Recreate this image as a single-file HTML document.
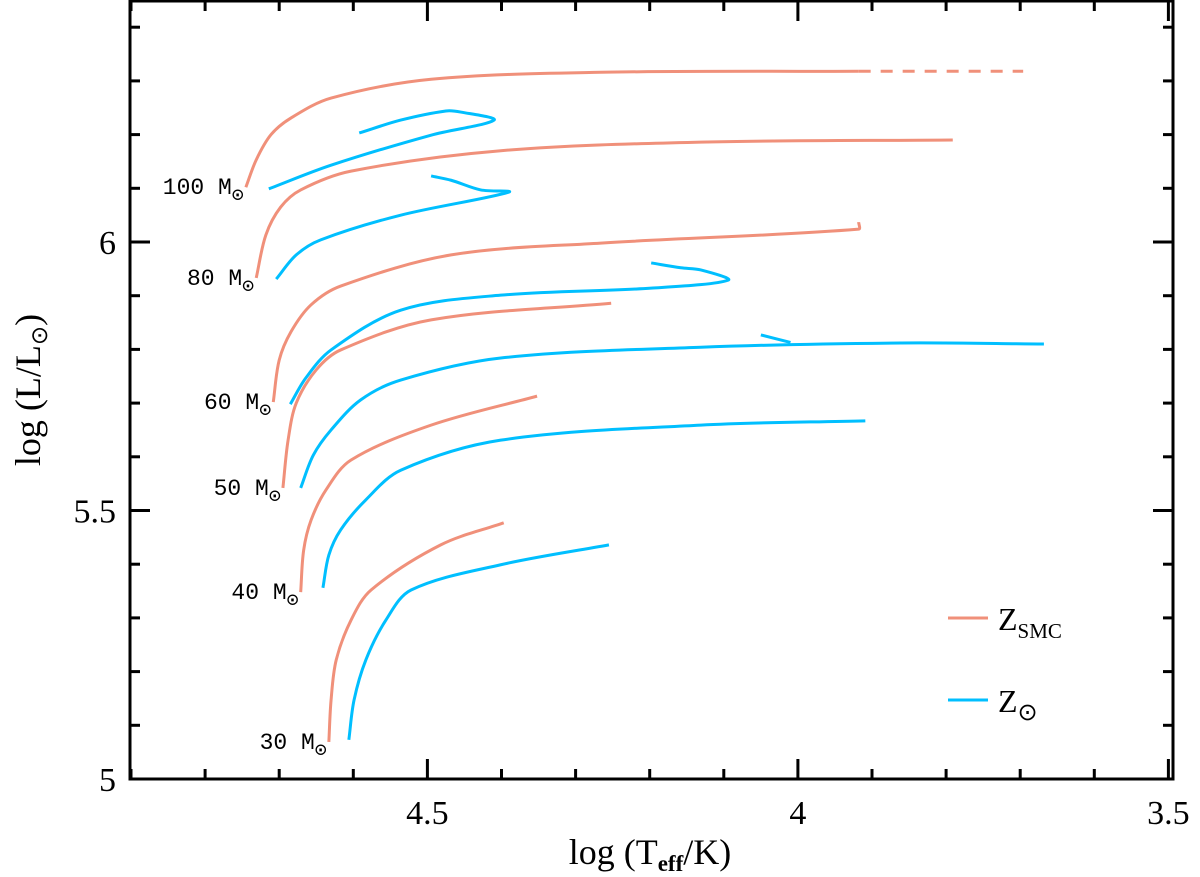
<!DOCTYPE html>
<html><head><meta charset="utf-8"><style>
body{margin:0;background:#fff;}
svg{display:block;font-family:"Liberation Serif",serif;}
</style></head><body>
<svg id="chart" width="1200" height="877" viewBox="0 0 1200 877" xmlns="http://www.w3.org/2000/svg">
<g id="tracks"></g>
<g id="axes"></g>
<g>
<line x1="948" y1="618" x2="988" y2="618" stroke="#f0907a" stroke-width="3"/>
<text x="998" y="630" font-size="32">Z<tspan font-size="21" dy="8">SMC</tspan></text>
<line x1="948" y1="700" x2="988" y2="700" stroke="#00bfff" stroke-width="3"/>
<text x="998" y="712" font-size="32">Z<tspan font-size="24" dy="8">⊙</tspan></text>
</g>
<text x="650" y="864" font-size="36" text-anchor="middle">log (T<tspan font-size="23" dy="7" font-weight="bold">eff</tspan><tspan dy="-7">/K)</tspan></text>
<text transform="translate(40,390) rotate(-90)" font-size="36" text-anchor="middle">log (L/L<tspan font-size="23" dy="7">⊙</tspan><tspan dy="-7">)</tspan></text>
</svg>
<script>
const xTicks=[4.5,4.0,3.5];
const xTickText=["4.5","4","3.5"];
const yTicks=[5,5.5,6];
const yTickText=["5","5.5","6"];
const massLabels=["100","80","60","50","40","30"];
const labelPos=[[4.745,6.102],[4.731,5.933],[4.708,5.702],[4.695,5.542],[4.671,5.348],[4.633,5.069]];
const smc100=[[4.745,6.102],[4.731,6.153],[4.711,6.200],[4.684,6.231],[4.630,6.268],[4.495,6.303],[4.266,6.316],[3.918,6.318]];
const smc100dash=[[3.918,6.318],[3.696,6.318]];
const sun100=[[4.714,6.099],[4.630,6.143],[4.495,6.199],[4.410,6.227],[4.455,6.242],[4.475,6.244],[4.536,6.227],[4.592,6.203]];
const smc80=[[4.731,5.933],[4.718,6.013],[4.698,6.065],[4.671,6.097],[4.603,6.132],[4.401,6.170],[4.131,6.186],[3.791,6.190]];
const sun80=[[4.704,5.931],[4.677,5.976],[4.644,6.004],[4.536,6.050],[4.390,6.093],[4.428,6.097],[4.468,6.115],[4.495,6.123]];
const smc60=[[4.708,5.702],[4.700,5.780],[4.684,5.833],[4.657,5.883],[4.617,5.918],[4.468,5.976],[4.266,5.998],[3.918,6.024],[3.918,6.037]];
const sun60=[[4.685,5.698],[4.664,5.747],[4.630,5.799],[4.536,5.873],[4.401,5.901],[4.198,5.914],[4.094,5.929],[4.131,5.948],[4.158,5.952],[4.198,5.961]];
const smc50=[[4.695,5.542],[4.688,5.631],[4.677,5.700],[4.650,5.762],[4.617,5.799],[4.495,5.855],[4.252,5.886]];
const sun50=[[4.671,5.542],[4.654,5.603],[4.630,5.650],[4.590,5.706],[4.536,5.743],[4.401,5.784],[4.131,5.804],[3.861,5.812],[3.668,5.810]];
const sun50loop=[[4.010,5.813],[4.050,5.827]];
const smc40=[[4.671,5.348],[4.667,5.426],[4.657,5.482],[4.637,5.538],[4.603,5.594],[4.495,5.659],[4.352,5.713]];
const sun40=[[4.641,5.356],[4.633,5.417],[4.617,5.464],[4.583,5.520],[4.536,5.575],[4.401,5.631],[4.131,5.659],[3.909,5.667]];
const smc30=[[4.633,5.069],[4.630,5.147],[4.623,5.222],[4.603,5.296],[4.576,5.352],[4.482,5.436],[4.397,5.477]];
const sun30=[[4.606,5.073],[4.599,5.147],[4.583,5.222],[4.556,5.296],[4.522,5.352],[4.401,5.399],[4.255,5.436]];

const L=130,R=1173,T=1,B=779;
const X=v=>131+(4.9-v)*741;
const Y=v=>779-(v-5)*537;
const NS="http://www.w3.org/2000/svg";
function mk(tag,attrs,parent){const e=document.createElementNS(NS,tag);for(const k in attrs)e.setAttribute(k,attrs[k]);parent.appendChild(e);return e;}
const dist=(a,b)=>Math.hypot(a[0]-b[0],a[1]-b[1])||1e-6;
function pathD(pts){
  const p=pts.map(q=>[X(q[0]),Y(q[1])]);
  let d="M"+p[0][0]+","+p[0][1];
  for(let i=0;i<p.length-1;i++){
    const p0=p[Math.max(i-1,0)],p1=p[i],p2=p[i+1],p3=p[Math.min(i+2,p.length-1)];
    const d01=dist(p0,p1),d12=dist(p1,p2),d23=dist(p2,p3);
    const k1=i===0?d12/(3*d12):d12/(3*(d01+d12));
    const k2=(i+2>p.length-1)?d12/(3*d12):d12/(3*(d12+d23));
    const c1=[p1[0]+(p2[0]-p0[0])*k1,p1[1]+(p2[1]-p0[1])*k1];
    const c2=[p2[0]-(p3[0]-p1[0])*k2,p2[1]-(p3[1]-p1[1])*k2];
    d+=" C"+c1[0]+","+c1[1]+" "+c2[0]+","+c2[1]+" "+p2[0]+","+p2[1];
  }
  return d;
}
const tg=document.getElementById('tracks');
const series=[["smc-100",smc100,"#f0907a",""],["smc-100-dashed",smc100dash,"#f0907a","12 10"],["sun-100",sun100,"#00bfff",""],
["smc-80",smc80,"#f0907a",""],["sun-80",sun80,"#00bfff",""],["smc-60",smc60,"#f0907a",""],["sun-60",sun60,"#00bfff",""],
["smc-50",smc50,"#f0907a",""],["sun-50",sun50,"#00bfff",""],["sun-50-loop",sun50loop,"#00bfff",""],
["smc-40",smc40,"#f0907a",""],["sun-40",sun40,"#00bfff",""],["smc-30",smc30,"#f0907a",""],["sun-30",sun30,"#00bfff",""]];
series.forEach(s=>{
  const e=mk('path',{d:pathD(s[1]),fill:"none",stroke:s[2],"stroke-width":3,"stroke-dasharray":s[3]},tg);
  
  
});
massLabels.forEach((m,i)=>{
  const t=mk('text',{x:X(labelPos[i][0])-2,y:Y(labelPos[i][1])+7,"font-size":23,"text-anchor":"end","font-family":"Liberation Mono, monospace"},tg);
  t.textContent=m+" M";
  
  
  const s=mk('tspan',{"font-size":20,dy:7},t);s.textContent="⊙";
});
const ag=document.getElementById('axes');
const fr=mk('rect',{x:L,y:T,width:R-L,height:B-T,fill:"none",stroke:"#000","stroke-width":3},ag);


for(let k=0;k<=14;k++){
  const v=4.9-k*0.1;const x=X(v);const maj=Math.abs(v*2-Math.round(v*2))<1e-6;const len=maj?20:10;
  mk('line',{x1:x,y1:B,x2:x,y2:B-len,stroke:"#000","stroke-width":3},ag);
  mk('line',{x1:x,y1:T,x2:x,y2:T+len,stroke:"#000","stroke-width":3},ag);
}
for(let k=0;k<=14;k++){
  const v=5+k*0.1;if(v>6.46)break;const y=Y(v);const maj=Math.abs(v*2-Math.round(v*2))<1e-6;const len=maj?20:10;
  mk('line',{x1:L,y1:y,x2:L+len,y2:y,stroke:"#000","stroke-width":3},ag);
  mk('line',{x1:R,y1:y,x2:R-len,y2:y,stroke:"#000","stroke-width":3},ag);
}
xTicks.forEach((v,i)=>{
  const t=mk('text',{x:X(v),y:824,"font-size":34,"text-anchor":"middle"},ag);
  t.textContent=xTickText[i];
  
  
});
yTicks.forEach((v,i)=>{
  const t=mk('text',{x:116,y:Y(v)+12,"font-size":34,"text-anchor":"end"},ag);
  t.textContent=yTickText[i];
  
  
});
</script>
</body></html>
